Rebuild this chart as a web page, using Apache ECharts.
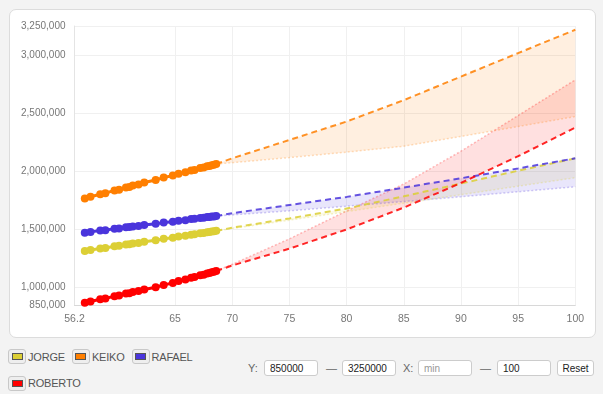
<!DOCTYPE html>
<html>
<head>
<meta charset="utf-8">
<title></title>
<style>
  body { margin: 0; background: #f3f3f3; font-family: 'Liberation Sans', Arial, sans-serif; }
  #card { position: absolute; left: 9px; top: 9px; width: 585px; height: 327px; background: #fff; border: 1px solid #dcdcdc; border-radius: 7px; }
  #main { width: 585px; height: 327px; }
  #legend { position: absolute; left: 8px; top: 346px; width: 230px; }
  .item { display: inline-flex; align-items: center; margin: 0 7px 8px 0; height: 16px; color: #555; font-size: 11px; letter-spacing: -0.2px; }
  .box { width: 16px; height: 13px; border: 1px solid #c8c8c8; border-radius: 3px; background: #eee; display: flex; align-items: center; justify-content: center; margin-right: 2px; }
  .box span { width: 9px; height: 5px; border: 1px solid #555; }
  #ctrl { position: absolute; top: 360px; left: 248px; font-size: 11px; color: #666; }
  #ctrl * { position: absolute; top: 0; }
  #ctrl input { height: 14px; width: 47px; padding: 0 0 0 5px; border: 1px solid #ccc; border-radius: 3px; font-size: 10px; font-family: 'Liberation Sans', Arial, sans-serif; color: #222; background: #fff; }
  #ctrl input::placeholder { color: #999; }
  #ctrl button { height: 16px; width: 37px; padding: 0; border: 1px solid #ccc; border-radius: 3px; font-size: 10px; background: #fff; color: #222; }
  #ctrl .t { line-height: 16px; }
</style>
</head>
<body>
<div id="card"><div id="main"></div></div>
<div id="legend"></div>
<div id="ctrl">
  <span class="t" style="left:0">Y:</span>
  <input style="left:16px" value="850000">
  <span class="t" style="left:78px">—</span>
  <input style="left:94px" value="3250000">
  <span class="t" style="left:155px">X:</span>
  <input style="left:170px" placeholder="min">
  <span class="t" style="left:232px">—</span>
  <input style="left:249px" value="100">
  <button style="left:309px">Reset</button>
</div>
<script src="https://cdn.jsdelivr.net/npm/echarts@6/dist/echarts.min.js"></script>
<script>
  const names = ['JORGE', 'KEIKO', 'RAFAEL', 'ROBERTO'];
  const colors = ['#dccf35', '#ff7f00', '#4a35dc', '#ff0000'];

  // observed points, values in thousands
  const obsX = [57.1, 57.6, 58.45, 58.9, 59.7, 60.1, 60.7, 61.0, 61.3, 61.8, 62.3, 63.3, 64.0, 64.8, 65.3, 65.9, 66.4, 66.7, 67.2, 67.5, 67.8, 68.0, 68.2, 68.4, 68.6];
  const jorge = [1314, 1323, 1336, 1340, 1355, 1359, 1370, 1372, 1379, 1384, 1394, 1407, 1419, 1429, 1439, 1446, 1455, 1458, 1467, 1470, 1476, 1477, 1482, 1484, 1488];
  const keiko = [1767, 1781, 1803, 1812, 1836, 1842, 1861, 1866, 1877, 1886, 1903, 1925, 1946, 1963, 1979, 1991, 2007, 2011, 2028, 2032, 2043, 2045, 2052, 2056, 2063];
  const rafael = [1472, 1479, 1490, 1494, 1505, 1508, 1518, 1520, 1525, 1530, 1538, 1548, 1559, 1567, 1575, 1580, 1589, 1591, 1599, 1601, 1606, 1607, 1611, 1612, 1615];
  const roberto = [869, 880, 899, 906, 926, 932, 948, 952, 961, 970, 983, 1003, 1023, 1040, 1056, 1069, 1085, 1090, 1106, 1111, 1122, 1125, 1132, 1135, 1143];

  // projections (dashed) and their bound (dotted), thousands
  const projX = [68.6, 70, 75, 80, 85, 90, 95, 100];
  const jorgeProj = [1488, 1515, 1595, 1680, 1785, 1895, 2005, 2112];
  const jorgeBound = [1488, 1508, 1580, 1653, 1726, 1799, 1872, 1945];
  const keikoProj = [2063, 2112, 2270, 2428, 2612, 2815, 3017, 3218];
  const keikoBound = [2063, 2074, 2118, 2165, 2216, 2300, 2385, 2471];
  const rafaelProj = [1615, 1640, 1710, 1780, 1860, 1940, 2025, 2112];
  const rafaelBound = [1615, 1625, 1660, 1700, 1740, 1781, 1824, 1867];
  const robertoProj = [1143, 1190, 1335, 1500, 1688, 1900, 2130, 2376];
  const robertoBound = [1143, 1201, 1419, 1659, 1891, 2173, 2480, 2787];

  const xTicks = [56.2, 65, 70, 75, 80, 85, 90, 95, 100];
  const yTicks = [850000, 1000000, 1500000, 2000000, 2500000, 3000000, 3250000];

  const observed = [jorge, keiko, rafael, roberto];
  const proj = [jorgeProj, keikoProj, rafaelProj, robertoProj];
  const bound = [jorgeBound, keikoBound, rafaelBound, robertoBound];

  function alpha(hex, a) {
    let n = parseInt(hex.slice(1), 16);
    return 'rgba(' + (n >> 16) + ',' + ((n >> 8) & 255) + ',' + (n & 255) + ',' + a + ')';
  }
  const pts = (xs, ys) => xs.map((x, i) => [x, ys[i] * 1000]);

  let series = [];
  names.forEach((name, k) => {
    let top = pts(projX, proj[k]), bot = pts(projX, bound[k]);
    series.push({
      type: 'custom', silent: true, z: 1,
      data: [top[0]],
      renderItem: (params, api) => {
        let poly = top.map(p => api.coord(p)).concat(bot.map(p => api.coord(p)).reverse());
        return { type: 'polygon', shape: { points: poly }, style: { fill: alpha(colors[k], 0.12) } };
      }
    });
    series.push({
      name, type: 'line', data: bot, symbol: 'none', z: 2,
      lineStyle: { color: alpha(colors[k], 0.25), width: 1.5, type: [2, 2] }
    });
    series.push({
      name, type: 'line', data: top, symbol: 'none', z: 3,
      lineStyle: { color: alpha(colors[k], 0.85), width: 2, type: [6, 4] }
    });
    series.push({
      name, type: 'line', data: pts(obsX, observed[k]), z: 4,
      symbol: 'circle', symbolSize: 8, showAllSymbol: true,
      itemStyle: { color: colors[k] },
      lineStyle: { color: colors[k], width: 3 }
    });
  });

  var myChart = echarts.init(document.getElementById('main'));
  myChart.setOption({
    animation: false,
    grid: { left: 64.5, right: 19.7, top: 16, bottom: 32 },
    xAxis: {
      type: 'value', min: 56.2, max: 100,
      axisLine: { lineStyle: { color: '#d8d8d8' } },
      axisTick: { show: false, customValues: xTicks },
      axisLabel: { customValues: xTicks, color: '#777', fontSize: 10.5, margin: 9 },
      splitLine: { lineStyle: { color: '#f0f0f0' } }
    },
    yAxis: {
      type: 'value', min: 850000, max: 3250000,
      axisLine: { show: true, lineStyle: { color: '#e4e4e4' } },
      axisTick: { show: false, customValues: yTicks },
      axisLabel: { customValues: yTicks, color: '#777', fontSize: 10, margin: 9, formatter: v => v.toLocaleString('en-US') },
      splitLine: { lineStyle: { color: '#f0f0f0' } }
    },
    series
  });

  let legend = document.getElementById('legend');
  names.forEach((n, k) => {
    legend.innerHTML += '<div class="item"><div class="box"><span style="background:' + colors[k] + '"></span></div>' + n + '</div>';
  });
</script>
</body>
</html>
